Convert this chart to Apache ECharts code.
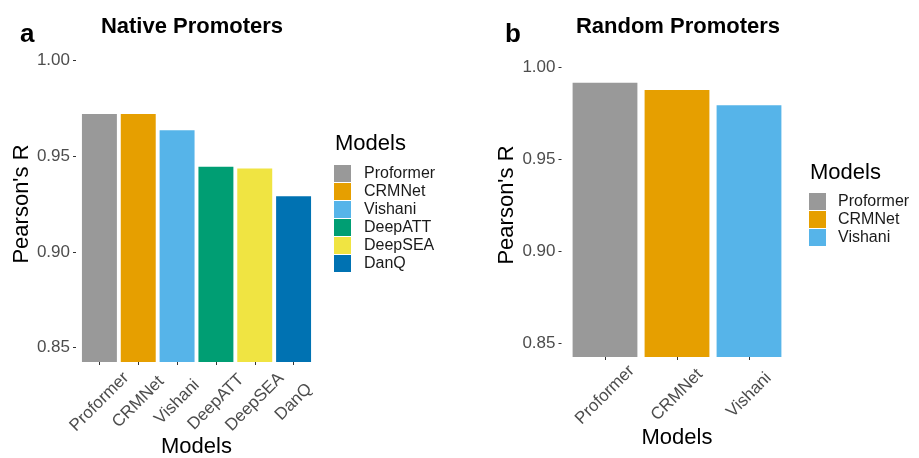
<!DOCTYPE html>
<html>
<head>
<meta charset="utf-8">
<script src="https://cdn.jsdelivr.net/npm/echarts@6/dist/echarts.min.js"></script>
<style>
html,body{margin:0;padding:0;background:#fff;}
#chart{width:919px;height:458px;}
</style>
</head>
<body>
<div id="chart"></div>
<script>
const nativeModels = ['Proformer', 'CRMNet', 'Vishani', 'DeepATT', 'DeepSEA', 'DanQ'];
const nativeValues = [0.972, 0.972, 0.9635, 0.9445, 0.9435, 0.929];
const randomModels = ['Proformer', 'CRMNet', 'Vishani'];
const randomValues = [0.9913, 0.9874, 0.9792];
const yTicks = [0.85, 0.90, 0.95, 1.00];
const modelColors = {
  Proformer: '#999999', CRMNet: '#E69F00', Vishani: '#56B4E9',
  DeepATT: '#009E73', DeepSEA: '#F0E442', DanQ: '#0072B2'
};
const FONT = 'Liberation Sans, Arial, sans-serif';

function buildSeries(models, values, idx) {
  return models.map((m, i) => ({
    name: m,
    type: 'bar',
    xAxisIndex: idx,
    yAxisIndex: idx,
    barGap: '-100%',
    barCategoryGap: '10%',
    itemStyle: { color: modelColors[m] },
    data: models.map((_, j) => (j === i ? values[i] : '-'))
  }));
}

function xAxisCfg(idx, models, margin, nameGap) {
  return {
    type: 'category', gridIndex: idx, data: models,
    axisLine: { show: false },
    axisTick: { show: true, alignWithLabel: true, length: 3, lineStyle: { color: '#333' } },
    axisLabel: { rotate: 45, align: 'center', verticalAlign: 'middle', margin: margin,
      fontSize: 17, color: '#4d4d4d', fontFamily: FONT },
    name: 'Models', nameLocation: 'middle', nameGap: nameGap, nameMoveOverlap: false,
    nameTextStyle: { fontSize: 22, color: '#000', fontFamily: FONT },
    splitLine: { show: false }
  };
}
function yAxisCfg(idx, offset, nameGap) {
  return {
    type: 'value', gridIndex: idx, min: 0.8425, max: 1.0075, offset: offset,
    axisLine: { show: false },
    axisTick: { show: true, length: 3, customValues: yTicks, lineStyle: { color: '#333' } },
    axisLabel: { customValues: yTicks, formatter: v => v.toFixed(2), margin: 6,
      fontSize: 17, color: '#4d4d4d', fontFamily: FONT },
    splitLine: { show: false },
    name: "Pearson's R", nameLocation: 'middle', nameGap: nameGap, nameMoveOverlap: false,
    nameTextStyle: { fontSize: 22, color: '#000', fontFamily: FONT }
  };
}

const chart = echarts.init(document.getElementById('chart'), null, { renderer: 'canvas' });
chart.setOption({
  backgroundColor: '#fff',
  animation: false,
  title: [
    { text: 'Native Promoters', left: 192, top: 16, textAlign: 'center', padding: 0,
      textStyle: { fontSize: 22, fontWeight: 'bold', color: '#000', fontFamily: FONT } },
    { text: 'Random Promoters', left: 678, top: 16, textAlign: 'center', padding: 0,
      textStyle: { fontSize: 22, fontWeight: 'bold', color: '#000', fontFamily: FONT } },
    { text: 'a', left: 20, top: 22, padding: 0,
      textStyle: { fontSize: 26, fontWeight: 'bold', color: '#000', fontFamily: FONT } },
    { text: 'b', left: 505, top: 22, padding: 0,
      textStyle: { fontSize: 26, fontWeight: 'bold', color: '#000', fontFamily: FONT } },
    { text: 'Models', left: 335, top: 133, padding: 0,
      textStyle: { fontSize: 22, fontWeight: 'normal', color: '#000', fontFamily: FONT } },
    { text: 'Models', left: 810, top: 162, padding: 0,
      textStyle: { fontSize: 22, fontWeight: 'normal', color: '#000', fontFamily: FONT } }
  ],
  grid: [
    { left: 80, top: 46, width: 233, height: 316, containLabel: false, outerBoundsMode: 'none' },
    { left: 569, top: 53, width: 216, height: 304, containLabel: false, outerBoundsMode: 'none' }
  ],
  legend: [
    { data: nativeModels, orient: 'vertical', left: 334, top: 165, padding: 0,
      itemWidth: 17, itemHeight: 17, itemGap: 1, icon: 'rect',
      selectedMode: false,
      textStyle: { fontSize: 16, color: '#1a1a1a', fontFamily: FONT, lineHeight: 17, padding: [0,0,0,8] } },
    { data: randomModels, orient: 'vertical', left: 809, top: 193, padding: 0,
      itemWidth: 17, itemHeight: 17, itemGap: 1, icon: 'rect',
      selectedMode: false,
      textStyle: { fontSize: 16, color: '#1a1a1a', fontFamily: FONT, lineHeight: 17, padding: [0,0,0,7] } }
  ],
  xAxis: [ xAxisCfg(0, nativeModels, 40, 74), xAxisCfg(1, randomModels, 38, 70) ],
  yAxis: [ yAxisCfg(0, 4, 43), yAxisCfg(1, 7.5, 44) ],
  series: [].concat(buildSeries(nativeModels, nativeValues, 0), buildSeries(randomModels, randomValues, 1))
});
</script>
</body>
</html>
